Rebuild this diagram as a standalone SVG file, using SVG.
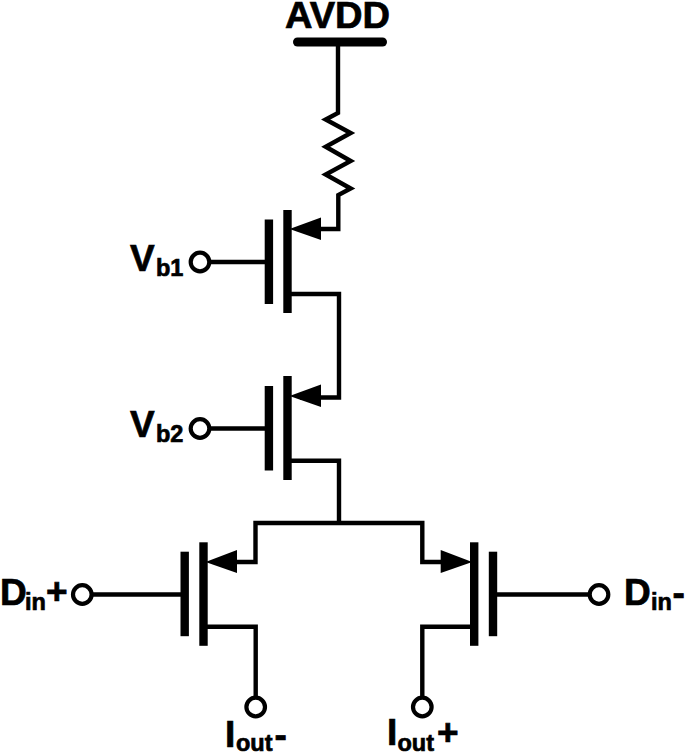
<svg xmlns="http://www.w3.org/2000/svg" width="685" height="753" viewBox="0 0 685 753">
<style>
.t{fill:none;stroke:#000;stroke-width:4.4;stroke-linejoin:miter;stroke-linecap:butt}
.b{fill:#000;stroke:none}
.c{fill:#fff;stroke:#000;stroke-width:4.2}
.l{font-family:"Liberation Sans",Arial,sans-serif;font-weight:700;font-size:37px;fill:#000;stroke:#000;stroke-width:0.7}
.s{font-size:23.5px}
</style>
<rect width="685" height="753" fill="#fff"/>
<g id="connectors">
<path class="t" d="M338 42V113L325.7 119.5L350.7 133L325.7 146.7L350.7 161L325.7 174.5L350.7 188.5L338.3 195V229H300"/>
<path class="t" d="M290 294H339V397.5H300"/>
<path class="t" d="M290 460.7H339V523"/>
<path class="t" d="M230 562H255.5V523H422.3V562H447"/>
<path class="t" d="M206 626.7H255.7V697"/>
<path class="t" d="M472 626.7H422.3V697"/>
<path class="t" d="M209 262H266"/>
<path class="t" d="M209 428.5H266"/>
<path class="t" d="M91 594.5H182"/>
<path class="t" d="M496 594.5H590"/>
</g>
<g id="avdd"><line x1="297.5" y1="42" x2="382.5" y2="42" stroke="#000" stroke-width="9" stroke-linecap="round"/>
<text class="l" x="285" y="27.5" textLength="105" lengthAdjust="spacingAndGlyphs">AVDD</text></g>
<g id="m1">
<rect class="b" x="264.7" y="219.5" width="8.4" height="84.5"/>
<rect class="b" x="283.3" y="210" width="8.4" height="103"/>
<polygon class="b" points="289.5,229 321,217.5 321,240"/>
</g>
<g id="m2">
<rect class="b" x="264.7" y="386" width="8.4" height="84.5"/>
<rect class="b" x="283.3" y="376" width="8.4" height="104"/>
<polygon class="b" points="289.5,396 321,384.5 321,407"/>
</g>
<g id="m3">
<rect class="b" x="180.5" y="551.7" width="8.4" height="84.5"/>
<rect class="b" x="199.3" y="542.3" width="8.4" height="103.5"/>
<polygon class="b" points="205.5,562 237,550 237,573"/>
</g>
<g id="m4">
<rect class="b" x="470" y="542.3" width="8.4" height="103.5"/>
<rect class="b" x="488.8" y="551.7" width="8.4" height="84.5"/>
<polygon class="b" points="472.2,562 440.7,550 440.7,573"/>
</g>
<g id="vb1"><circle class="c" cx="200" cy="262" r="9.3"/>
<text class="l" x="130" y="270.5">V<tspan class="s" x="156" y="275.5">b1</tspan></text></g>
<g id="vb2"><circle class="c" cx="200" cy="428.5" r="9.3"/>
<text class="l" x="130" y="436.7">V<tspan class="s" x="156" y="441.7">b2</tspan></text></g>
<g id="din-plus"><circle class="c" cx="82.3" cy="594.5" r="9.3"/>
<text class="l" x="0" y="605">D<tspan class="s" x="25" y="610">in</tspan><tspan x="46" y="604">+</tspan></text></g>
<g id="din-minus"><circle class="c" cx="599" cy="594.5" r="9.3"/>
<text class="l" x="624" y="605">D<tspan class="s" x="651" y="610">in</tspan><tspan x="672.5" y="605">-</tspan></text></g>
<g id="iout-minus"><circle class="c" cx="255.7" cy="707" r="9.3"/>
<text class="l" x="225" y="746.5">I<tspan class="s" x="236" y="750.7">out</tspan><tspan x="274.5" y="746.5">-</tspan></text></g>
<g id="iout-plus"><circle class="c" cx="422.3" cy="707" r="9.3"/>
<text class="l" x="387" y="745">I<tspan class="s" x="397.5" y="750.7">out</tspan><tspan x="437" y="745">+</tspan></text></g>
</svg>
